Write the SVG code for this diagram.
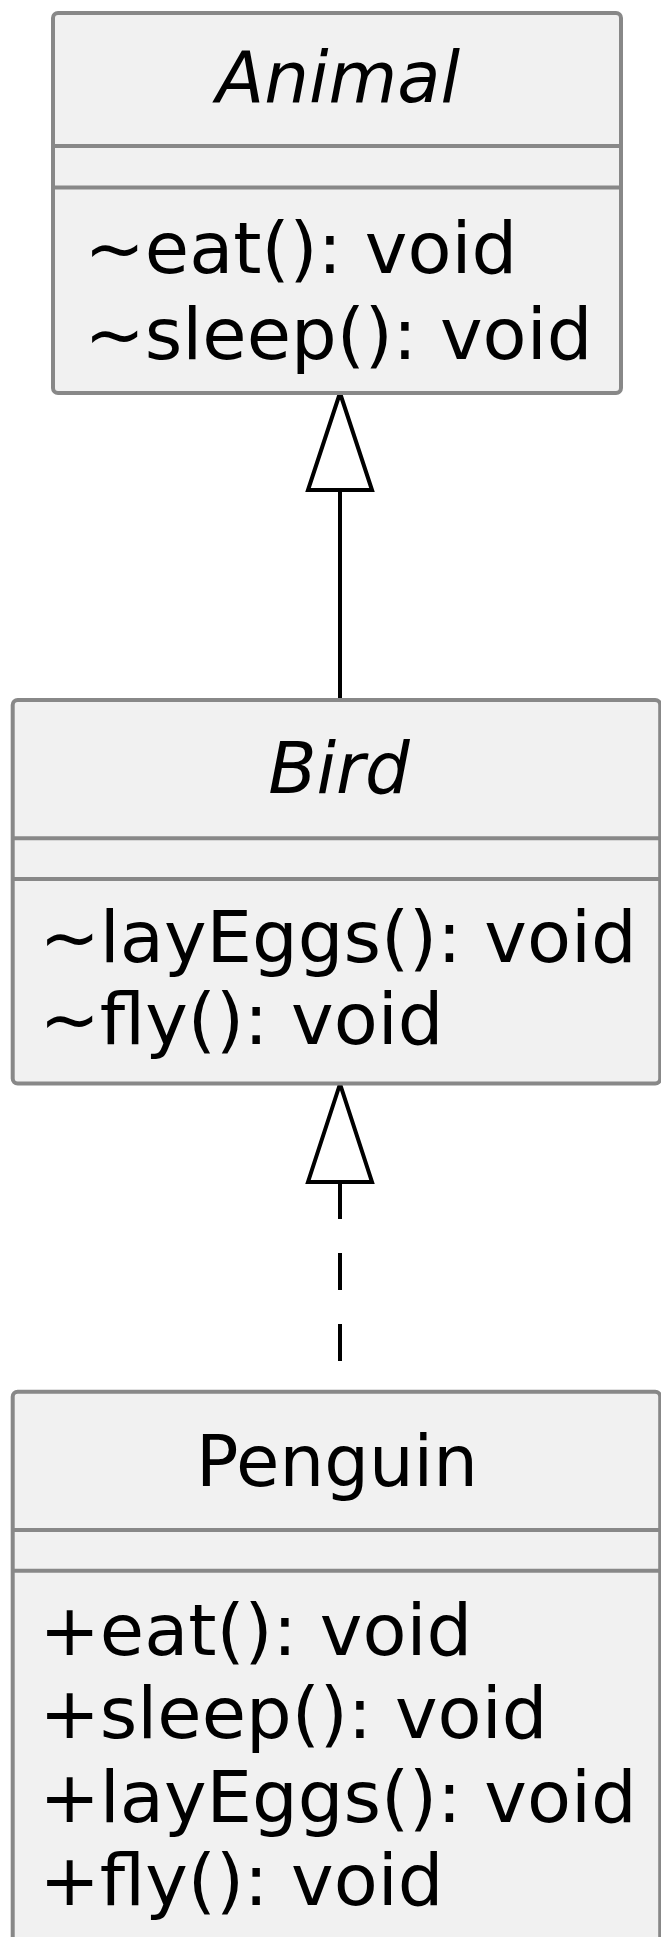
<svg xmlns="http://www.w3.org/2000/svg" width="661" height="1937" viewBox="0 0 661 1937">
<style>
.box{fill:#F1F1F1;stroke:#888888;stroke-width:4}
.sep{stroke:#888888;stroke-width:4}
.t{font-family:"DejaVu Sans",sans-serif;font-size:72px;fill:#000000}
.title{text-anchor:middle;font-size:70.5px}
.abs{font-style:italic}
.edge{stroke:#000000;stroke-width:4;fill:none}
.head{fill:#FFFFFF;stroke:#000000;stroke-width:4;stroke-linejoin:miter}
</style>
<rect x="0" y="0" width="661" height="1937" fill="#FFFFFF"/>
<g id="connectors">
<line class="edge" x1="340" y1="490" x2="340" y2="700"/>
<polygon class="head" points="340,393 308,490 372,490"/>
<line class="edge" x1="340" y1="1182" x2="340" y2="1392" stroke-dasharray="37 34"/>
<polygon class="head" points="340,1084 308,1182 372,1182"/>
</g>
<g id="Animal">
<rect class="box" x="53" y="13" width="568" height="380" rx="5"/>
<line class="sep" x1="53" y1="146" x2="621" y2="146"/>
<line class="sep" x1="53" y1="187.5" x2="621" y2="187.5"/>
<text class="t title abs" x="338" y="101.5">Animal</text>
<text class="t" x="84.5" y="272.5">~eat(): void</text>
<text class="t" x="84.5" y="359">~sleep(): void</text>
</g>
<g id="Bird">
<rect class="box" x="12.7" y="700" width="647.5" height="383.5" rx="5"/>
<line class="sep" x1="12.7" y1="838.3" x2="660" y2="838.3"/>
<line class="sep" x1="12.7" y1="879" x2="660" y2="879"/>
<text class="t title abs" x="339" y="793.3">Bird</text>
<text class="t" x="39.5" y="961.7">~layEggs(): void</text>
<text class="t" x="39.5" y="1044">~fly(): void</text>
</g>
<g id="Penguin">
<rect class="box" x="12.7" y="1391.7" width="647.5" height="600" rx="5"/>
<line class="sep" x1="12.7" y1="1530" x2="660" y2="1530"/>
<line class="sep" x1="12.7" y1="1570.7" x2="660" y2="1570.7"/>
<text class="t title" x="337" y="1486">Penguin</text>
<text class="t" x="39.5" y="1655">+eat(): void</text>
<text class="t" x="39.5" y="1737.5">+sleep(): void</text>
<text class="t" x="39.5" y="1822">+layEggs(): void</text>
<text class="t" x="39.5" y="1905">+fly(): void</text>
</g>
</svg>
